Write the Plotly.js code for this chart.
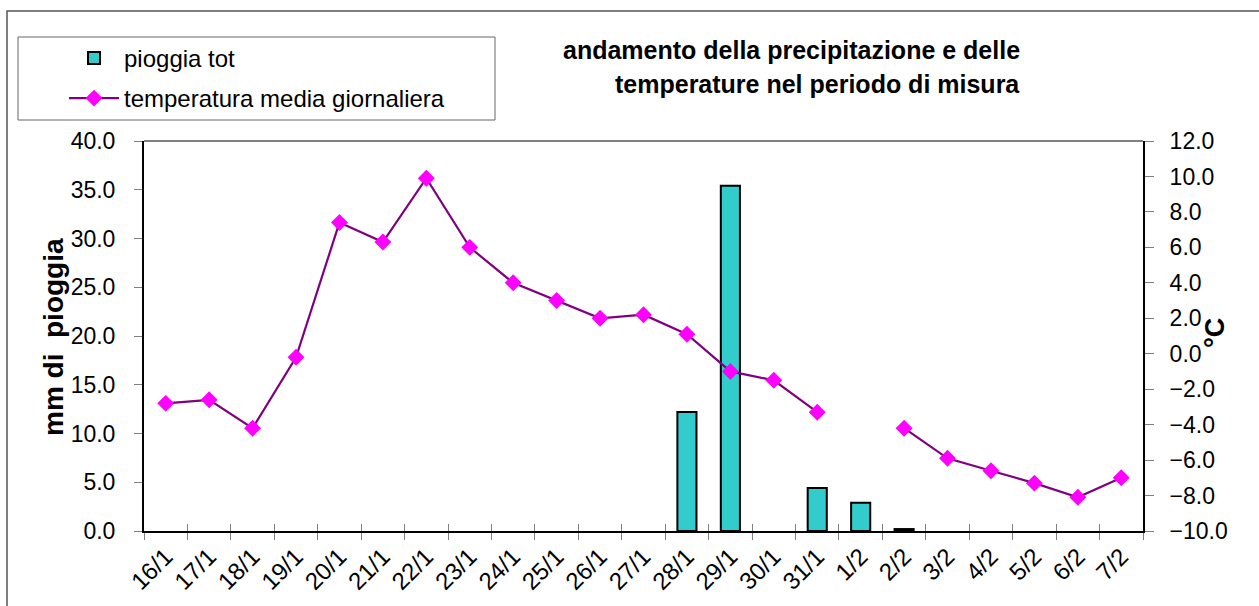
<!DOCTYPE html>
<html>
<head>
<meta charset="utf-8">
<script src="https://cdn.plot.ly/plotly-3.0.1.min.js"></script>
<style>html,body{margin:0;padding:0;background:#fff;}#chart{width:1259px;height:606px;}</style>
</head>
<body>
<div id="chart"></div>
<script>
const categories = ['16/1','17/1','18/1','19/1','20/1','21/1','22/1','23/1','24/1','25/1','26/1','27/1','28/1','29/1','30/1','31/1','1/2','2/2','3/2','4/2','5/2','6/2','7/2'];
const rainTot = [null,null,null,null,null,null,null,null,null,null,null,null,12.2,35.4,null,4.4,2.9,0.2,null,null,null,null,null];
const tempMedia = [-2.8,-2.6,-4.2,-0.2,7.4,6.3,9.9,6.0,4.0,3.0,2.0,2.2,1.1,-1.0,-1.5,-3.3,null,-4.2,-5.9,-6.6,-7.3,-8.1,-7.0];
const seriesNames = ['pioggia tot','temperatura media giornaliera'];
const titleLines = ['andamento della precipitazione e delle','temperature nel periodo di misura'];
const yLeftTitle = 'mm di  pioggia';
const yRightTitle = '°C';

const FONT = 'Liberation Sans, Arial, sans-serif';
const W = 1259, H = 606;
const L = 144, R = 1143, T = 141, B = 531;
const px = x => (x - L) / (R - L);
const py = y => (B - y) / (B - T);

const traces = [
  {
    type: 'bar', name: seriesNames[0], x: categories, y: rainTot,
    width: 0.44,
    marker: {color: '#33CCCC', line: {color: '#000000', width: 2}},
    xaxis: 'x', yaxis: 'y', legend: 'legend', hoverinfo: 'x+y'
  },
  {
    type: 'scatter', mode: 'markers', x: categories, y: rainTot,
    marker: {opacity: 0}, xaxis: 'x2', yaxis: 'y', showlegend: false, hoverinfo: 'skip'
  },
  {
    type: 'scatter', mode: 'lines+markers', name: seriesNames[1], x: categories, y: tempMedia,
    connectgaps: false,
    line: {color: '#800080', width: 2.2},
    marker: {symbol: 'diamond', color: '#FF00FF', size: 13},
    xaxis: 'x', yaxis: 'y2', legend: 'legend2'
  }
];

const tickFont = {family: FONT, size: 23, color: '#000'};
const xTickFont = {family: FONT, size: 24, color: '#000'};

const layout = {
  width: W, height: H,
  margin: {l: L, r: W - R, t: T, b: H - B, pad: 0, autoexpand: false},
  paper_bgcolor: '#fff', plot_bgcolor: '#fff',
  font: {family: FONT, color: '#000'},
  showlegend: true,
  xaxis: {
    type: 'category', categoryorder: 'array', categoryarray: categories,
    range: [-0.5, categories.length - 0.5], automargin: false,
    tickson: 'boundaries', ticks: 'outside', ticklen: 7, tickwidth: 1, tickcolor: '#808080',
    showline: true, linecolor: '#000', linewidth: 2,
    showgrid: false, zeroline: false,
    tickangle: -45, tickfont: xTickFont
  },
  xaxis2: {
    type: 'category', categoryorder: 'array', categoryarray: categories,
    overlaying: 'x', anchor: 'y', side: 'bottom', automargin: false,
    range: [-0.5, categories.length - 0.5],
    tickson: 'boundaries', ticks: 'inside', ticklen: 7, tickwidth: 1, tickcolor: '#808080',
    showticklabels: false, showline: false, showgrid: false, zeroline: false
  },
  yaxis: {
    range: [0, 40], dtick: 5, tick0: 0, tickformat: '.1f', automargin: false,
    ticks: 'outside', ticklen: 8, tickwidth: 1, tickcolor: '#808080',
    ticklabelstandoff: 14,
    showline: true, linecolor: '#000', linewidth: 2,
    showgrid: false, zeroline: false, tickfont: tickFont
  },
  yaxis2: {
    overlaying: 'y', side: 'right', anchor: 'x', automargin: false,
    range: [-10, 12], dtick: 2, tick0: 0, tickformat: '.1f',
    ticks: 'outside', ticklen: 9, tickwidth: 1, tickcolor: '#808080',
    ticklabelstandoff: 11,
    showline: true, linecolor: '#000', linewidth: 2,
    showgrid: false, zeroline: false, tickfont: tickFont
  },
  legend: {
    xref: 'container', yref: 'container',
    x: 64 / W, y: 1 - 36 / H, xanchor: 'left', yanchor: 'top',
    bgcolor: 'rgba(0,0,0,0)', borderwidth: 0, itemwidth: 50,
    font: {family: FONT, size: 24, color: '#000'}
  },
  legend2: {
    xref: 'container', yref: 'container',
    x: 64 / W, y: 1 - 76 / H, xanchor: 'left', yanchor: 'top',
    bgcolor: 'rgba(0,0,0,0)', borderwidth: 0, itemwidth: 50,
    font: {family: FONT, size: 24, color: '#000'}
  },
  shapes: [
    {type: 'rect', xref: 'paper', yref: 'paper', x0: px(7), x1: px(1270), y0: py(620), y1: py(11),
     line: {color: '#555555', width: 1.5}, fillcolor: 'rgba(0,0,0,0)', layer: 'below'},
    {type: 'rect', xref: 'paper', yref: 'paper', x0: px(18), x1: px(495), y0: py(120), y1: py(37),
     line: {color: '#666666', width: 1}, fillcolor: 'rgba(0,0,0,0)'},
    {type: 'line', xref: 'paper', yref: 'paper', x0: 0, x1: 1, y0: 1, y1: 1,
     line: {color: '#808080', width: 2}}
  ],
  annotations: [
    {xref: 'paper', yref: 'paper', x: px(1022), y: py(50), xanchor: 'right', yanchor: 'middle',
     text: titleLines[0], showarrow: false, font: {family: FONT, size: 25, weight: 'bold', color: '#000'}},
    {xref: 'paper', yref: 'paper', x: px(1022), y: py(84), xanchor: 'right', yanchor: 'middle',
     text: titleLines[1], showarrow: false, font: {family: FONT, size: 25, weight: 'bold', color: '#000'}},
    {xref: 'paper', yref: 'paper', x: px(53), y: py(337), xanchor: 'center', yanchor: 'middle',
     text: yLeftTitle, textangle: -90, showarrow: false, font: {family: FONT, size: 28, weight: 'bold', color: '#000'}},
    {xref: 'paper', yref: 'paper', x: px(1215), y: py(333), xanchor: 'center', yanchor: 'middle',
     text: yRightTitle, textangle: -90, showarrow: false, font: {family: FONT, size: 27, weight: 'bold', color: '#000'}}
  ]
};

Plotly.newPlot('chart', traces, layout, {displayModeBar: false, staticPlot: true});
</script>
</body>
</html>
